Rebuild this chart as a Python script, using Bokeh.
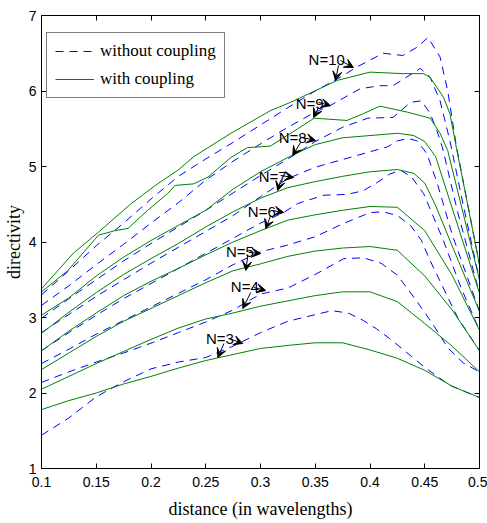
from bokeh.plotting import figure
from bokeh.models import (ColumnDataSource, LinearAxis, FixedTicker, Arrow, VeeHead,
                          LabelSet, Legend, LegendItem, Range1d)
from bokeh.core.properties import value
from bokeh.embed import file_html
from bokeh.resources import INLINE

# ---------------- data ----------------
x_ticks = [0.1, 0.15, 0.2, 0.25, 0.3, 0.35, 0.4, 0.45, 0.5]
x_tick_labels = ["0.1", "0.15", "0.2", "0.25", "0.3", "0.35", "0.4", "0.45", "0.5"]
y_ticks = [1, 2, 3, 4, 5, 6, 7]
y_tick_labels = ["1", "2", "3", "4", "5", "6", "7"]

grid = [0.1, 0.125, 0.15, 0.175, 0.2, 0.225, 0.25, 0.275, 0.3, 0.325, 0.35, 0.375, 0.4, 0.425, 0.45, 0.475, 0.5]

# with coupling (green, solid)
g3_x = grid
g3_y = [1.78, 1.90, 2.00, 2.12, 2.22, 2.33, 2.43, 2.51, 2.59, 2.63, 2.665, 2.665, 2.57, 2.46, 2.30, 2.09, 1.94]
g4_x = grid
g4_y = [2.05, 2.22, 2.39, 2.55, 2.71, 2.86, 2.98, 3.06, 3.15, 3.22, 3.29, 3.34, 3.34, 3.21, 2.92, 2.62, 2.28]
g5_x = grid
g5_y = [2.31, 2.53, 2.75, 2.95, 3.12, 3.29, 3.46, 3.62, 3.71, 3.81, 3.88, 3.92, 3.94, 3.89, 3.55, 3.10, 2.56]
g6_x = grid
g6_y = [2.56, 2.82, 3.06, 3.29, 3.48, 3.65, 3.83, 4.00, 4.15, 4.29, 4.36, 4.42, 4.47, 4.46, 4.15, 3.56, 2.83]
g7_x = [0.1, 0.125, 0.15, 0.175, 0.2, 0.225, 0.25, 0.275, 0.3, 0.325, 0.35, 0.375, 0.4, 0.425, 0.44, 0.45, 0.46, 0.475, 0.5]
g7_y = [2.79, 3.07, 3.33, 3.57, 3.78, 3.98, 4.20, 4.40, 4.58, 4.72, 4.80, 4.87, 4.93, 4.96, 4.91, 4.78, 4.48, 3.95, 3.08]
g8_x = [0.1, 0.125, 0.15, 0.175, 0.2, 0.225, 0.25, 0.275, 0.3, 0.325, 0.35, 0.375, 0.4, 0.425, 0.44, 0.45, 0.46, 0.475, 0.5]
g8_y = [3.03, 3.26, 3.55, 3.80, 4.02, 4.22, 4.42, 4.70, 4.93, 5.12, 5.29, 5.38, 5.41, 5.44, 5.41, 5.33, 5.13, 4.45, 3.32]
g9_x = [0.1, 0.124, 0.152, 0.167, 0.179, 0.197, 0.215, 0.222, 0.239, 0.252, 0.261, 0.273, 0.288, 0.309,
        0.334, 0.349, 0.379, 0.394, 0.409, 0.434, 0.455, 0.464, 0.471, 0.5]
g9_y = [3.34, 3.62, 4.09, 4.15, 4.18, 4.42, 4.64, 4.75, 4.77, 4.86, 4.97, 5.12, 5.25, 5.27,
        5.50, 5.64, 5.61, 5.70, 5.80, 5.72, 5.64, 5.44, 5.21, 3.50]
g10_x = [0.1, 0.129, 0.152, 0.182, 0.206, 0.2245, 0.239, 0.273, 0.291, 0.309, 0.3275, 0.37, 0.4, 0.43,
         0.449, 0.455, 0.467, 0.473, 0.479, 0.5]
g10_y = [3.38, 3.85, 4.13, 4.51, 4.77, 4.95, 5.13, 5.44, 5.59, 5.74, 5.85, 6.14, 6.25, 6.23,
         6.23, 6.18, 5.92, 5.70, 5.24, 3.70]

# without coupling (blue, dashed)
b3_x = [0.1, 0.125, 0.15, 0.175, 0.2, 0.225, 0.25, 0.275, 0.3, 0.325, 0.345, 0.365, 0.38, 0.394,
        0.406, 0.418, 0.429, 0.45, 0.473, 0.5]
b3_y = [1.44, 1.67, 1.95, 2.15, 2.32, 2.41, 2.47, 2.62, 2.80, 2.95, 3.02, 3.09, 3.06, 2.96,
        2.85, 2.72, 2.59, 2.34, 2.10, 1.94]
b4_x = [0.1, 0.125, 0.15, 0.175, 0.2, 0.225, 0.25, 0.275, 0.3, 0.325, 0.35, 0.376, 0.394, 0.41,
        0.425, 0.441, 0.457, 0.471, 0.485, 0.5]
b4_y = [2.14, 2.28, 2.41, 2.53, 2.66, 2.80, 2.94, 3.10, 3.31, 3.39, 3.57, 3.78, 3.79, 3.72,
        3.56, 3.25, 2.92, 2.60, 2.40, 2.28]
b5_x = [0.1, 0.125, 0.15, 0.175, 0.2, 0.225, 0.25, 0.275, 0.3, 0.325, 0.35, 0.375, 0.4, 0.412,
        0.425, 0.437, 0.447, 0.455, 0.465, 0.48, 0.5]
b5_y = [2.39, 2.58, 2.78, 2.96, 3.14, 3.32, 3.50, 3.70, 3.87, 3.96, 4.07, 4.24, 4.39, 4.40,
        4.35, 4.22, 4.02, 3.75, 3.45, 3.00, 2.56]
b6_x = [0.1, 0.125, 0.15, 0.175, 0.2, 0.225, 0.25, 0.275, 0.3, 0.321, 0.334, 0.358, 0.379, 0.394,
        0.409, 0.418, 0.428, 0.438, 0.449, 0.458, 0.467, 0.483, 0.5]
b6_y = [2.56, 2.80, 3.03, 3.25, 3.45, 3.65, 3.85, 4.05, 4.25, 4.39, 4.51, 4.62, 4.63, 4.68,
        4.81, 4.90, 4.95, 4.86, 4.64, 4.33, 4.02, 3.40, 2.83]
b7_x = [0.1, 0.125, 0.15, 0.175, 0.2, 0.225, 0.25, 0.275, 0.3, 0.325, 0.35, 0.389, 0.416, 0.425,
        0.435, 0.443, 0.452, 0.462, 0.475, 0.5]
b7_y = [2.80, 3.04, 3.28, 3.50, 3.72, 3.93, 4.14, 4.35, 4.60, 4.84, 4.99, 5.15, 5.26, 5.34,
        5.37, 5.34, 5.17, 4.75, 4.10, 3.08]
b8_x = [0.1, 0.125, 0.15, 0.175, 0.2, 0.225, 0.25, 0.275, 0.3, 0.325, 0.35, 0.375, 0.398, 0.421,
        0.437, 0.447, 0.455, 0.461, 0.466, 0.48, 0.5]
b8_y = [2.99, 3.25, 3.50, 3.75, 3.98, 4.20, 4.42, 4.65, 4.88, 5.10, 5.33, 5.52, 5.64, 5.65,
        5.85, 5.87, 5.70, 5.48, 5.26, 4.40, 3.32]
b9_x = [0.1, 0.125, 0.15, 0.175, 0.2, 0.225, 0.25, 0.275, 0.3, 0.325, 0.35, 0.364, 0.391, 0.409,
        0.421, 0.446, 0.455, 0.464, 0.473, 0.485, 0.5]
b9_y = [3.16, 3.42, 3.70, 3.97, 4.25, 4.52, 4.82, 5.07, 5.30, 5.52, 5.72, 5.81, 6.03, 6.07,
        6.07, 6.30, 6.18, 5.87, 5.34, 4.50, 3.50]
b10_x = [0.1, 0.125, 0.15, 0.175, 0.2, 0.225, 0.25, 0.275, 0.3, 0.325, 0.35, 0.375, 0.387, 0.412,
         0.43, 0.443, 0.453, 0.464, 0.471, 0.479, 0.5]
b10_y = [3.30, 3.62, 3.95, 4.25, 4.57, 4.87, 5.10, 5.32, 5.55, 5.78, 6.00, 6.20, 6.31, 6.50,
         6.47, 6.58, 6.71, 6.45, 6.00, 5.26, 3.70]

# annotations: "N=.." labels with two arrows each (one to dashed, one to solid curve)
ann_text = ["N=10", "N=9", "N=8", "N=7", "N=6", "N=5", "N=4", "N=3"]
ann_x = [0.3439, 0.3321, 0.3166, 0.2984, 0.2884, 0.2684, 0.2729, 0.2502]
ann_y = [6.417, 5.834, 5.384, 4.868, 4.404, 3.874, 3.411, 2.722]
arr_x0 = [0.3730, 0.3712, 0.3530, 0.3530, 0.3385, 0.3366, 0.3184, 0.3184,
          0.3111, 0.3093, 0.2893, 0.2884, 0.2939, 0.2911, 0.2711, 0.2666]
arr_y0 = [6.404, 6.338, 5.848, 5.781, 5.384, 5.318, 4.881, 4.815,
          4.417, 4.351, 3.861, 3.821, 3.397, 3.331, 2.722, 2.656]
arr_x1 = [0.3849, 0.3685, 0.3639, 0.3485, 0.3503, 0.3294, 0.3303, 0.3157,
          0.3212, 0.3048, 0.3002, 0.2866, 0.3048, 0.2838, 0.2838, 0.2611]
arr_y1 = [6.311, 6.139, 5.808, 5.649, 5.344, 5.146, 4.854, 4.682,
          4.391, 4.179, 3.848, 3.623, 3.358, 3.119, 2.656, 2.470]

# ---------------- figure ----------------
BLUE = "#0000ff"
GREEN = "#008000"
SANS = "Liberation Sans"
SERIF = "Liberation Serif"

p = figure(width=487, height=523, output_backend="svg", toolbar_location=None,
           x_range=Range1d(0.1, 0.5), y_range=Range1d(1, 7),
           min_border_left=40, min_border_right=8, min_border_top=15, min_border_bottom=55)
p.xgrid.visible = False
p.ygrid.visible = False
p.outline_line_color = "black"
p.outline_line_width = 1
p.background_fill_color = "white"
p.border_fill_color = "white"

blue_series = [(b3_x, b3_y), (b4_x, b4_y), (b5_x, b5_y), (b6_x, b6_y),
               (b7_x, b7_y), (b8_x, b8_y), (b9_x, b9_y), (b10_x, b10_y)]
green_series = [(g3_x, g3_y), (g4_x, g4_y), (g5_x, g5_y), (g6_x, g6_y),
                (g7_x, g7_y), (g8_x, g8_y), (g9_x, g9_y), (g10_x, g10_y)]

blue_r = []
for xs, ys in blue_series:
    blue_r.append(p.line(xs, ys, line_color=BLUE, line_width=1, line_dash="8 6"))
green_r = []
for xs, ys in green_series:
    green_r.append(p.line(xs, ys, line_color=GREEN, line_width=1))

# axes
xa = p.xaxis[0]
xa.ticker = FixedTicker(ticks=x_ticks)
xa.major_label_overrides = {t: l for t, l in zip(x_ticks, x_tick_labels)}
ya = p.yaxis[0]
ya.ticker = FixedTicker(ticks=y_ticks)
ya.major_label_overrides = {t: l for t, l in zip(y_ticks, y_tick_labels)}
for ax in (xa, ya):
    ax.major_tick_in = 5
    ax.major_tick_out = 0
    ax.minor_tick_line_color = None
    ax.axis_line_color = "black"
    ax.major_tick_line_color = "black"
    ax.major_label_text_font = SANS
    ax.major_label_text_font_size = "14px"
    ax.major_label_text_color = "black"
    ax.axis_label_text_font = SERIF
    ax.axis_label_text_font_style = "normal"
    ax.axis_label_text_font_size = "18px"
    ax.axis_label_text_color = "black"
xa.axis_label = "distance (in wavelengths)"
ya.axis_label = "directivity"
xa.major_label_standoff = 8
xa.axis_label_standoff = 9
ya.major_label_standoff = 5
ya.axis_label_standoff = 2

top = LinearAxis(ticker=FixedTicker(ticks=x_ticks), major_tick_in=5, major_tick_out=0,
                 minor_tick_line_color=None, major_label_text_font_size="0px",
                 major_label_text_alpha=0, major_label_standoff=0, axis_line_color="black")
right = LinearAxis(ticker=FixedTicker(ticks=y_ticks), major_tick_in=5, major_tick_out=0,
                   minor_tick_line_color=None, major_label_text_font_size="0px",
                   major_label_text_alpha=0, major_label_standoff=0, axis_line_color="black")
p.add_layout(top, "above")
p.add_layout(right, "right")

# annotations
lab_src = ColumnDataSource(dict(x=ann_x, y=ann_y, text=ann_text))
p.add_layout(LabelSet(x="x", y="y", text="text", source=lab_src, text_font=value(SANS),
                      text_font_size=value("15px"), text_baseline="middle", text_align="left",
                      text_color="black"))
arr_src = ColumnDataSource(dict(x0=arr_x0, y0=arr_y0, x1=arr_x1, y1=arr_y1))
p.add_layout(Arrow(x_start="x0", y_start="y0", x_end="x1", y_end="y1", source=arr_src,
                   line_color="black", line_width=1,
                   end=VeeHead(size=9, fill_color="black", line_color="black", line_width=1)))

legend = Legend(items=[LegendItem(label="without coupling", renderers=[blue_r[0]]),
                       LegendItem(label="with coupling", renderers=[green_r[0]])],
                location=(5, 370))
legend.label_text_font = SERIF
legend.label_text_font_size = "17px"
legend.label_text_color = "black"
legend.border_line_color = "black"
legend.border_line_width = 1
legend.background_fill_color = "white"
legend.background_fill_alpha = 1
legend.glyph_width = 39
legend.glyph_height = 20
legend.label_height = 20
legend.label_standoff = 6
legend.spacing = 8
legend.padding = 8
legend.margin = 0
p.add_layout(legend, "center")

open("out.html", "w").write(file_html(p, INLINE))
